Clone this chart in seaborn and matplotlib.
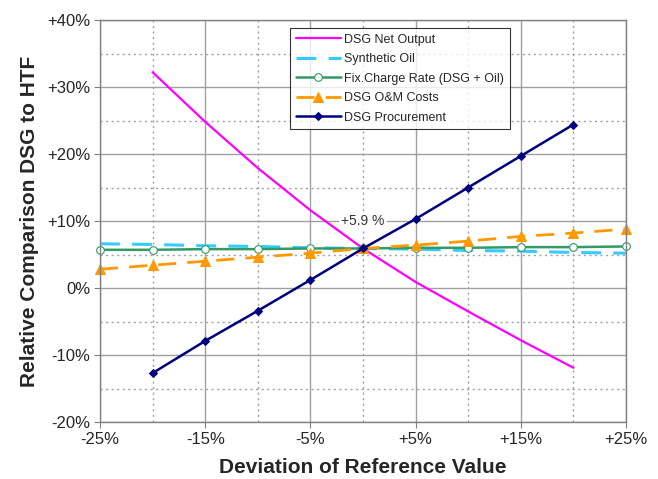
import matplotlib
matplotlib.use("Agg")
import matplotlib.pyplot as plt
import seaborn as sns
import numpy as np
from matplotlib.ticker import MultipleLocator, FixedLocator

# ---- data (percent) ----
x_short = [-20, -15, -10, -5, 0, 5, 10, 15, 20]
x_full = [-25, -20, -15, -10, -5, 0, 5, 10, 15, 20, 25]
net_output = [32.2, 24.8, 17.9, 11.6, 5.9, 0.9, -3.5, -7.8, -11.9]
synthetic_oil = [6.6, 6.5, 6.3, 6.2, 6.0, 5.9, 5.8, 5.6, 5.5, 5.3, 5.2]
fix_charge = [5.7, 5.7, 5.8, 5.8, 5.9, 5.9, 6.0, 6.0, 6.1, 6.1, 6.2]
om_costs = [2.8, 3.4, 4.0, 4.6, 5.2, 5.9, 6.4, 7.0, 7.7, 8.2, 8.8]
procurement = [-12.7, -7.9, -3.4, 1.2, 5.9, 10.3, 15.0, 19.7, 24.4]

x_ticks = [-25, -15, -5, 5, 15, 25]
x_tick_labels = ["-25%", "-15%", "-5%", "+5%", "+15%", "+25%"]
y_ticks = [-20, -10, 0, 10, 20, 30, 40]
y_tick_labels = ["-20%", "-10%", "0%", "+10%", "+20%", "+30%", "+40%"]

sns.set_style("white")
plt.rcParams["font.family"] = ["Liberation Sans", "DejaVu Sans"]

fig = plt.figure(figsize=(6.58, 4.79), dpi=100)
ax = fig.add_axes([100 / 658, 1 - 422 / 479, 526 / 658, 402 / 479])

sns.lineplot(x=x_short, y=net_output, ax=ax, color="#FF00FF", lw=1.6,
             label="DSG Net Output")
sns.lineplot(x=x_full, y=synthetic_oil, ax=ax, color="#33CCFF", lw=2.2,
             label="Synthetic Oil").lines[-1].set_dashes([6.5, 4])
sns.lineplot(x=x_full, y=fix_charge, ax=ax, color="#339966", lw=1.8,
             marker="o", markersize=5.5, markerfacecolor="white",
             markeredgecolor="#339966", markeredgewidth=0.8,
             label="Fix.Charge Rate (DSG + Oil)")
l_om = sns.lineplot(x=x_full, y=om_costs, ax=ax, color="#FF9900", lw=2.0,
                    marker="^", markersize=6.5, markeredgecolor="#FF9900",
                    label="DSG O&M Costs").lines[-1]
l_om.set_dashes([6.5, 4])
sns.lineplot(x=x_short, y=procurement, ax=ax, color="#000080", lw=1.8,
             marker="D", markersize=4, markeredgecolor="#000080",
             label="DSG Procurement")

for ln in ax.lines:
    ln.set_clip_on(False)

ax.set_xlim(-25, 25)
ax.set_ylim(-20, 40)
ax.xaxis.set_major_locator(FixedLocator(x_ticks))
ax.set_xticklabels(x_tick_labels)
ax.xaxis.set_minor_locator(FixedLocator([-20, -10, 0, 10, 20]))
ax.yaxis.set_major_locator(FixedLocator(y_ticks))
ax.set_yticklabels(y_tick_labels)
ax.yaxis.set_minor_locator(MultipleLocator(5))

ax.grid(True, which="major", color="#A0A0A0", lw=1.0, ls="-")
ax.grid(True, which="minor", color="#A0A0A0", lw=1.0, ls=(0, (1.5, 2.5)))
ax.set_axisbelow(True)

for s in ax.spines.values():
    s.set_color("#808080")
    s.set_linewidth(1.0)

ax.tick_params(axis="both", which="major", direction="out", length=4,
               color="#808080", labelsize=12, pad=3, bottom=True, left=True)
ax.tick_params(axis="both", which="minor", length=0)

ax.set_xlabel("Deviation of Reference Value", fontsize=15, fontweight="bold",
              labelpad=8)
ax.set_ylabel("Relative Comparison DSG to HTF", fontsize=15, fontweight="bold",
              labelpad=6)

ax.text(0, 10, "+5.9 %", ha="center", va="center", fontsize=10, color="#333333",
        bbox=dict(facecolor="white", edgecolor="none", pad=1.5))

leg = ax.legend(loc="upper left", bbox_to_anchor=(0.361, 0.98), borderaxespad=0,
                fontsize=9, frameon=True, fancybox=False, handlelength=3.6,
                labelspacing=0.6, borderpad=0.45, handletextpad=0.3)
leg.get_frame().set_edgecolor("black")
leg.get_frame().set_linewidth(0.8)

fig.savefig("out.png", dpi=100)
